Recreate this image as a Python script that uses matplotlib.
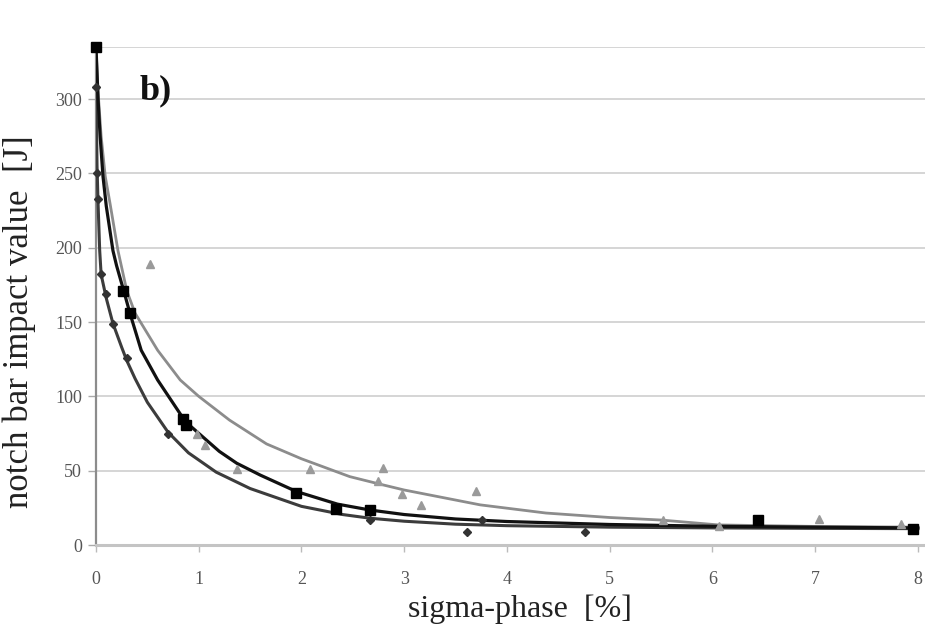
import matplotlib
matplotlib.use("Agg")
import matplotlib.pyplot as plt

# ---- data ----
# series A: diamonds (lower curve)
a_x = [0, 0.013, 0.02, 0.046, 0.10, 0.165, 0.30, 0.70, 2.67, 3.61, 3.76, 4.76]
a_y = [308, 250, 233, 182, 169, 149, 126, 75, 17, 8.5, 17, 8.5]
# series B: black squares (middle curve)
b_x = [0, 0.26, 0.33, 0.85, 0.88, 1.95, 2.34, 2.67, 6.44, 7.95]
b_y = [335, 171, 156, 85, 81, 35, 24.5, 23.5, 17, 11]
# series C: grey triangles (upper curve)
c_x = [0.53, 0.98, 1.06, 1.37, 2.08, 2.75, 2.79, 2.98, 3.16, 3.70, 5.52, 6.06, 7.04, 7.84]
c_y = [189, 75, 67, 51, 51, 43, 52, 34, 27, 36, 17, 13, 17.5, 14]

# trend curves
ca_x = [0, 0.01, 0.02, 0.036, 0.05, 0.1, 0.165, 0.25, 0.3, 0.38, 0.5, 0.7, 0.9, 1.17, 1.5,
        2.0, 2.4, 2.67, 3.0, 3.5, 4.0, 5.0, 6.0, 7.0, 8.0]
ca_y = [308, 255, 230, 198, 182, 166, 149, 133, 124, 112, 96, 76, 62, 49, 38,
        26, 20.5, 18, 16, 14, 13, 12, 11.5, 11.2, 11]
cb_x = [0, 0.02, 0.04, 0.068, 0.1, 0.165, 0.2, 0.27, 0.33, 0.44, 0.6, 0.87, 1.2, 1.37, 1.6,
        1.95, 2.35, 2.67, 3.0, 3.5, 4.0, 5.0, 6.0, 7.0, 8.0]
cb_y = [335, 300, 275, 248, 228, 198, 188, 171, 156, 131, 111, 83, 63, 55, 47,
        36, 27.5, 23.5, 20.5, 17.5, 15.8, 13.8, 12.6, 12, 11.5]
cc_x = [0, 0.02, 0.05, 0.09, 0.136, 0.214, 0.3, 0.38, 0.6, 0.82, 1.0, 1.3, 1.66, 2.0, 2.47,
        2.76, 3.0, 3.74, 4.38, 5.0, 5.5, 6.06, 7.0, 8.0]
cc_y = [335, 305, 275, 248, 230, 198, 171, 156, 131, 111, 100, 84, 68, 58, 46,
        41, 37, 27, 21.5, 18.5, 16.8, 13.5, 12.5, 12]

x_ticks = [0, 1, 2, 3, 4, 5, 6, 7, 8]
y_ticks = [0, 50, 100, 150, 200, 250, 300]

plt.rcParams['font.family'] = ['Liberation Serif', 'DejaVu Serif']

fig = plt.figure(figsize=(9.25, 6.29), dpi=100)
ax = fig.add_axes([96 / 925, 1 - 545 / 629, 829 / 925, (545 - 47) / 629])

ax.set_xlim(0, 8.07)
ax.set_ylim(0, 335)

# grid
for yv in y_ticks[1:] + [335]:
    ax.axhline(yv, color='#d2d2d2', lw=1.3, zorder=0)

# curves
ax.plot(cc_x, cc_y, color='#8c8c8c', lw=2.0, zorder=2, solid_joinstyle='round')
ax.plot(ca_x, ca_y, color='#3c3c3c', lw=2.2, zorder=3, solid_joinstyle='round')
ax.plot(cb_x, cb_y, color='#111111', lw=2.3, zorder=4, solid_joinstyle='round')

# markers
ax.plot(c_x, c_y, linestyle='none', marker='^', ms=6, color='#9a9a9a', zorder=5,
        clip_on=False)
ax.plot(a_x, a_y, linestyle='none', marker='D', ms=4.5, color='#333333', zorder=6,
        clip_on=False)
ax.plot(b_x, b_y, linestyle='none', marker='s', ms=7, color='#000000', zorder=7,
        clip_on=False)

ax.set_xticks(x_ticks)
ax.set_yticks(y_ticks)
ax.tick_params(axis='y', direction='out', length=6, width=1.0, color='#aaaaaa',
               labelsize=13, labelcolor='#555555', pad=4)
ax.tick_params(axis='x', direction='out', length=5, width=1.0, color='#bbbbbb',
               labelsize=13, labelcolor='#555555', pad=14)

for s in ['top', 'right']:
    ax.spines[s].set_visible(False)
ax.spines['left'].set_color('#8c8c8c')
ax.spines['left'].set_linewidth(1.6)
ax.spines['bottom'].set_color('#c4c4c4')
ax.spines['bottom'].set_linewidth(2.2)

ax.set_xlabel('sigma-phase  [%]', fontsize=23, color='#222222')
ax.xaxis.set_label_coords((520 - 96) / 829, -(595 - 545) / 498)
ax.set_ylabel('notch bar impact value  [J]', fontsize=25, color='#222222')
ax.yaxis.set_label_coords(-(96 - 36) / 829, (545 - 322) / 498)

ax.text(0.42, 300, 'b)', fontsize=26, fontweight='bold', color='#111111',
        va='baseline', ha='left')

fig.savefig('out.png', dpi=100)
